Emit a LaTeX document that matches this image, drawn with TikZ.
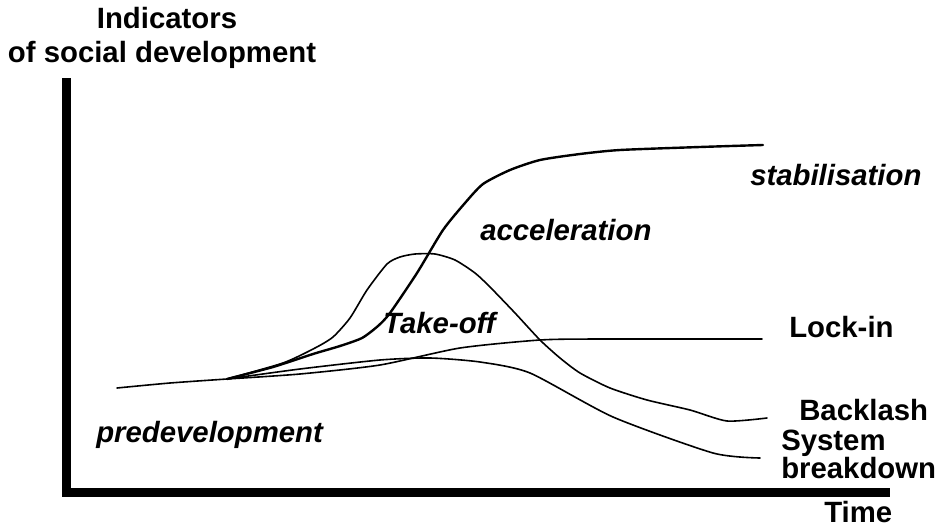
\documentclass[tikz,border=0pt]{standalone}
\usepackage{fontspec}
\setmainfont{Liberation Sans}
\begin{document}
\begin{tikzpicture}[x=0.75pt,y=-0.75pt,
  lab/.style={inner sep=0pt,font=\fontsize{22}{26}\selectfont\bfseries},
  ilab/.style={inner sep=0pt,font=\fontsize{22}{26}\selectfont\bfseries\itshape},
  axisline/.style={line width=6.4pt},
  curve/.style={line width=1.2pt,line join=round,line cap=round},
  mcurve/.style={line width=1.8pt,line join=round,line cap=round}]
\useasboundingbox (0,0) rectangle (937,528);
% axes
\coordinate (ytop) at (66.5,78);
\coordinate (origin) at (66.5,492.5);
\coordinate (xend) at (890,492.5);
\draw[axisline] (ytop) -- (origin) -- (xend);
% labels
\node[lab,anchor=base] (ylab1) at (167,29) {Indicators};
\node[lab,anchor=base] (ylab2) at (162,63) {of social development};
\node[lab,anchor=base west] (time) at (824,522) {Time};
\node[lab,anchor=base west] (backlash) at (799,420) {Backlash};
\node[lab,anchor=base west] (system) at (781,450) {System};
\node[lab,anchor=base west] (breakdown) at (781,478) {breakdown};
\node[lab,anchor=base west] (lockin) at (789,337) {Lock-in};
\node[ilab,anchor=base west] (stab) at (750,185) {stabilisation};
\node[ilab,anchor=base west] (accel) at (480,240) {acceleration};
\node[ilab,anchor=base west] (takeoff) at (383,333) {Take-off};
\node[ilab,anchor=base west] (predev) at (96,442) {predevelopment};
% curves
\draw[curve] plot[smooth,tension=0.4] coordinates {(117,388) (170,383) (227,379)};
\draw[mcurve] plot[smooth,tension=0.4] coordinates {(227,379) (273,367) (313,354) (340,346) (362,338) (378,326) (390,313) (417,273) (443,230) (465,203) (483,184) (510,170) (540,160) (580,154) (620,150) (700,147) (763,145)};
\draw[curve] plot[smooth,tension=0.4] coordinates {(227,379) (283,363) (315,348) (333,337) (350,318) (367,290) (387,264) (400,257) (415,254) (435,254) (455,260) (475,273) (490,287) (515,313) (540,340) (560,358) (580,373) (610,388) (647,400) (690,410) (727,421) (767,418)};
\draw[curve] plot[smooth,tension=0.4] coordinates {(227,379) (300,374) (380,365) (460,348) (540,340) (600,339) (762,339)};
\draw[curve] plot[smooth,tension=0.4] coordinates {(227,379) (300,369) (380,360) (430,358) (480,362) (530,373) (613,417) (713,453) (760,458)};
\end{tikzpicture}
\end{document}
